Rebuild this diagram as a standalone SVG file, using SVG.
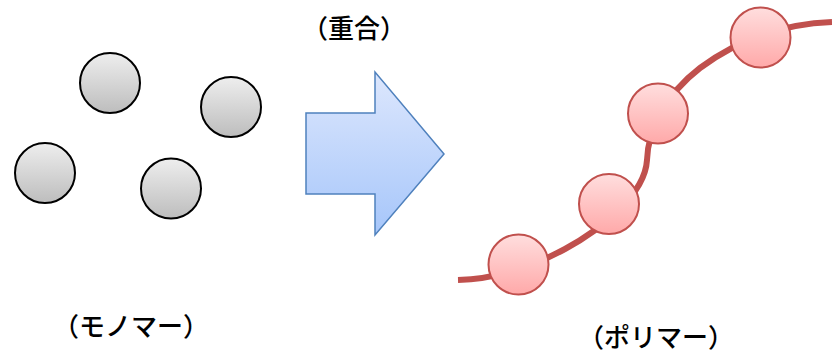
<svg xmlns="http://www.w3.org/2000/svg" width="832" height="358" viewBox="0 0 832 358">
  <defs>
    <linearGradient id="grayFill" x1="0" y1="0" x2="0" y2="1">
      <stop offset="0" stop-color="#eeeeee"/>
      <stop offset="1" stop-color="#bdbdbd"/>
    </linearGradient>
    <linearGradient id="redFill" x1="0" y1="0" x2="0" y2="1">
      <stop offset="0" stop-color="#ffdede"/>
      <stop offset="1" stop-color="#ffa9a9"/>
    </linearGradient>
    <linearGradient id="blueFill" x1="0" y1="0" x2="0" y2="1">
      <stop offset="0" stop-color="#dde7fd"/>
      <stop offset="1" stop-color="#a6c6fa"/>
    </linearGradient>
  </defs>
  <style>
    .monomer { fill: url(#grayFill); stroke: #000000; stroke-width: 2; }
    .unit { fill: url(#redFill); stroke: #c0504d; stroke-width: 2; }
    .chain { fill: none; stroke: #c0504d; stroke-width: 6; }
    .label { font-family: "Noto Sans CJK JP", "Noto Sans CJK SC", sans-serif; font-size: 26px; font-weight: 500; fill: #000000; text-anchor: middle; }
  </style>

  <!-- free monomers -->
  <g id="monomers">
    <circle class="monomer" cx="110" cy="83" r="30"/>
    <circle class="monomer" cx="231" cy="107" r="30"/>
    <circle class="monomer" cx="45" cy="173" r="30"/>
    <circle class="monomer" cx="171" cy="188.5" r="30"/>
  </g>
  <g id="label-monomer">
    <text class="label" x="131" y="336">（モノマー）</text>
  </g>

  <!-- reaction arrow -->
  <g id="arrow">
    <polygon points="306,113 375,113 375,72 444,154 375,235 375,194 306,194" fill="url(#blueFill)" stroke="#4f81bd" stroke-width="1.5" stroke-linejoin="miter"/>
  </g>
  <g id="label-reaction">
    <text class="label" x="354" y="38">（重合）</text>
  </g>

  <!-- polymer chain -->
  <g id="connectors">
    <path class="chain" d="M458,280 C495,279 530,268 565,249 C600,230 645,195 647,160 C648,130 665,95 700,68 C735,42 780,24 832,22"/>
  </g>
  <g id="polymer">
    <circle class="unit" cx="518.5" cy="264.5" r="30"/>
    <circle class="unit" cx="609" cy="204" r="30"/>
    <circle class="unit" cx="658" cy="113.5" r="30"/>
    <circle class="unit" cx="760.5" cy="37.5" r="30"/>
  </g>
  <g id="label-polymer">
    <text class="label" x="656" y="347">（ポリマー）</text>
  </g>
</svg>
